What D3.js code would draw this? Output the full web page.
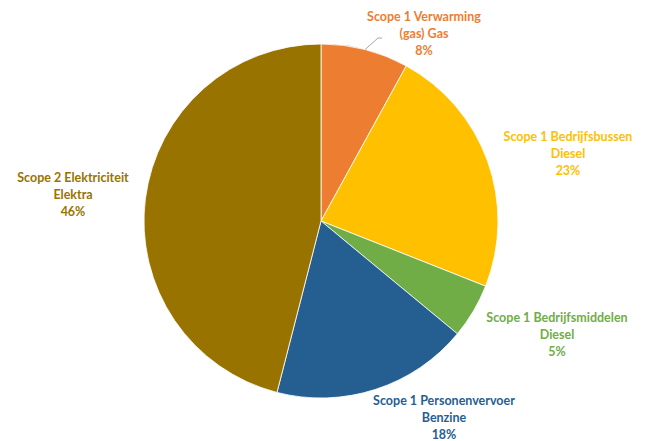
<!DOCTYPE html>
<meta charset="utf-8">
<script src="https://d3js.org/d3.v7.min.js"></script>
<title>CO2 footprint</title>
<style>
body { margin: 0; background: #fff; }
svg { font-family: Lato, "Open Sans", sans-serif; font-weight: bold; }
</style>
<svg width="646" height="441"></svg>
<script>

// slices, clockwise from 12 o'clock
var names = [
  ["Scope 1 Verwarming", "(gas) Gas"],
  ["Scope 1 Bedrijfsbussen", "Diesel"],
  ["Scope 1 Bedrijfsmiddelen", "Diesel"],
  ["Scope 1 Personenvervoer", "Benzine"],
  ["Scope 2 Elektriciteit", "Elektra"]
];
var values = [8, 23, 5, 18, 46];
var colors = ["#ED7D31", "#FFC000", "#70AD47", "#255E91", "#997300"];
// label anchor (centre x, first baseline y)
var labelPos = [[424, 21], [568, 141], [557, 322], [444, 405], [73, 182]];

var svg = d3.select("svg"),
    cx = 321, cy = 221, r = 177;

var pie = d3.pie().sort(null).value(d => d);
var arc = d3.arc().innerRadius(0).outerRadius(r);
var arcs = pie(values);

var g = svg.append("g").attr("transform", "translate(" + cx + "," + cy + ")");

g.selectAll("path")
  .data(arcs)
  .join("path")
    .attr("d", arc)
    .attr("fill", (d, i) => colors[i])
    .attr("stroke", "#fff")
    .attr("stroke-width", 0.8);

// leader line for the small top slice
var mid = (arcs[0].startAngle + arcs[0].endAngle) / 2;
var p0 = [Math.sin(mid) * r, -Math.cos(mid) * r];
svg.append("polyline")
    .attr("points", [[cx + p0[0], cy + p0[1]], [378, 38], [382, 38]].map(p => p.join(",")).join(" "))
    .attr("fill", "none")
    .attr("stroke", "#a6a6a6")
    .attr("stroke-width", 1);

var lab = svg.selectAll("text.lab")
  .data(arcs)
  .join("text")
    .attr("class", "lab")
    .attr("text-anchor", "middle")
    .attr("font-size", 12.5)
    .attr("fill", (d, i) => colors[i]);

lab.selectAll("tspan")
  .data((d, i) => names[i].concat([values[i] + "%"]).map(t => ({t: t, i: i})))
  .join("tspan")
    .attr("x", d => labelPos[d.i][0])
    .attr("y", (d, j) => labelPos[d.i][1] + j * 17)
    .text(d => d.t);

</script>
